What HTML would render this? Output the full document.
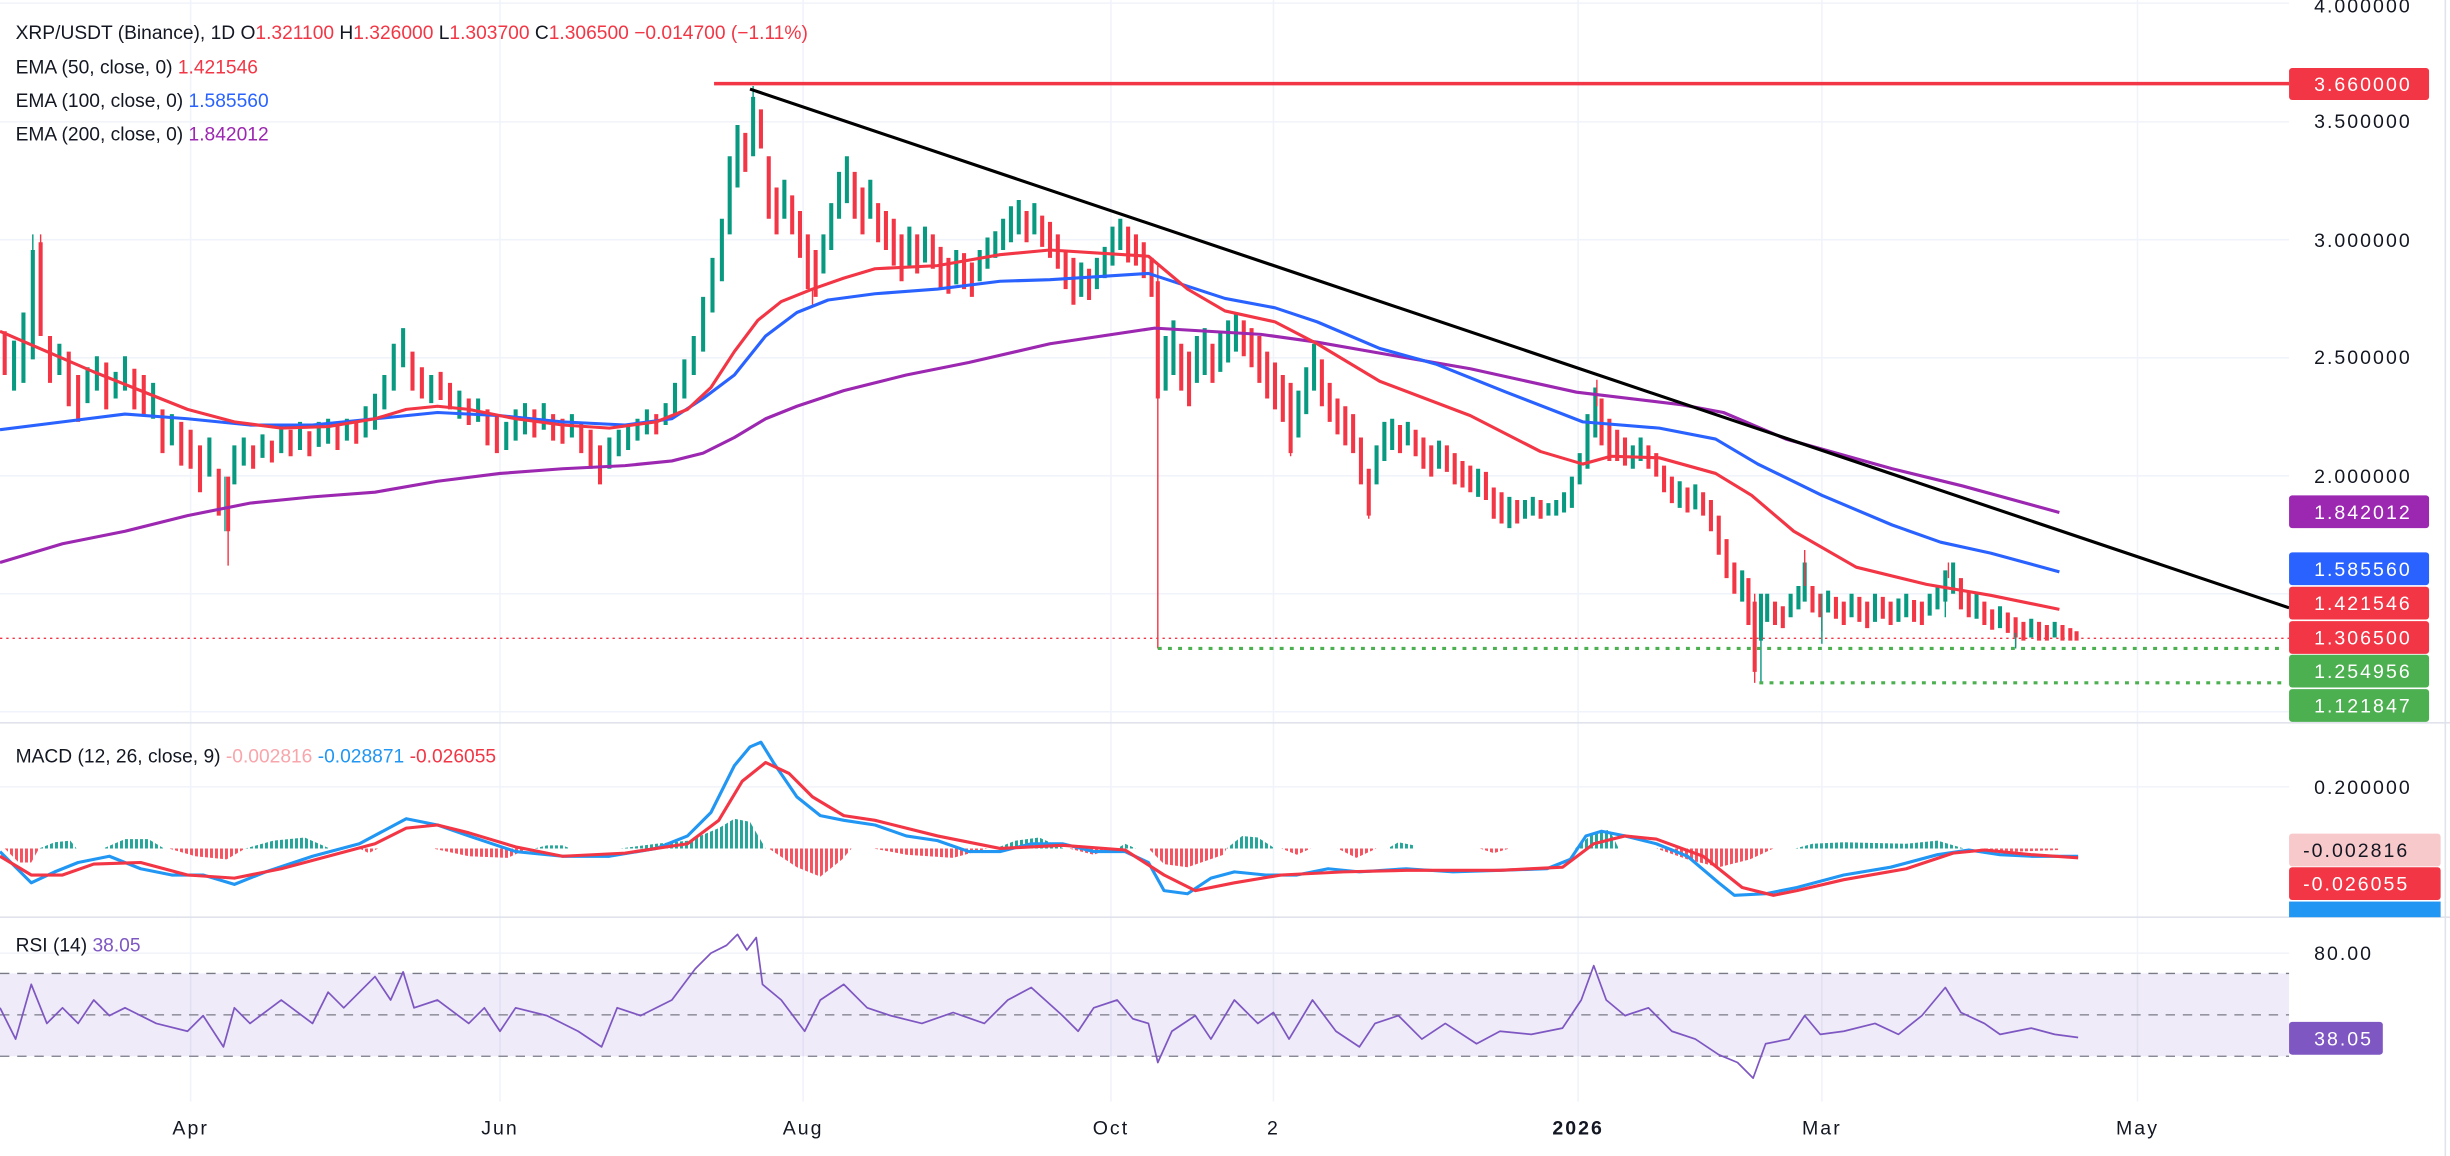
<!DOCTYPE html>
<html><head><meta charset="utf-8"><style>
html,body{margin:0;padding:0;background:#fff;}
svg{display:block;font-family:"Liberation Sans",sans-serif;}
.ax{font-size:12.5px;fill:#131722;letter-spacing:1.3px;}
.lg{font-size:12.3px;fill:#131722;}
</style></head><body>
<svg width="2450" height="1156" viewBox="0 0 1568 739.84" xmlns="http://www.w3.org/2000/svg">
<defs>
<pattern id="pg" width="3.2" height="10" patternUnits="userSpaceOnUse"><rect width="1.9" height="10" fill="#26a69a"/></pattern>
<pattern id="pr" width="3.2" height="10" patternUnits="userSpaceOnUse"><rect width="1.9" height="10" fill="#f7525f"/></pattern>
</defs>
<rect width="1568" height="740" fill="#fff"/>
<g stroke="#f0f3fa" stroke-width="1">
<path d="M122 0V705M320 0V705M514 0V705M711 0V705M815 0V705M1010 0V705M1166 0V705M1368 0V705"/>
<path d="M0 2H1465M0 78H1465M0 153.4H1465M0 229H1465M0 304.5H1465M0 380H1465M0 455.5H1465M0 503.6H1465M0 610H1465"/>
</g>
<rect x="0" y="623" width="1465" height="53" fill="#7e57c2" fill-opacity="0.12"/>
<g stroke="#787b86" stroke-width="0.8" stroke-dasharray="6,5">
<line x1="0" y1="623" x2="1465" y2="623"/><line x1="0" y1="649.5" x2="1465" y2="649.5"/><line x1="0" y1="676" x2="1465" y2="676"/>
</g>
<line x1="0" y1="462.6" x2="1568" y2="462.6" stroke="#e0e3eb" stroke-width="1"/>
<line x1="0" y1="587" x2="1568" y2="587" stroke="#e0e3eb" stroke-width="1"/>
<line x1="1565" y1="0" x2="1565" y2="740" stroke="#e0e3eb"/>

<!-- MACD histogram -->
<g>
<path fill="url(#pg)" d="M25 543L35 539L45 538L49 543ZM66 543L80 537L95 537L105 543ZM157 543L175 538L195 536L211 543ZM342 543L350 541L360 541L365 543ZM397 543L420 540L441 538L460 530L470 524L480 526L490 543ZM637 543L650 538L665 536L681 543ZM715 543L720 540L727 543ZM785 543L795 535L805 536L816 543ZM888 543L895 539L905 541L905 543ZM1008 543L1020 533L1030 531L1036 543ZM1149 543L1160 540L1180 539L1220 540L1240 538L1257 543Z"/>
<path fill="url(#pr)" d="M3 543L12 552L20 552L25 543ZM108 543L125 548L145 550L157 543ZM230 543L236 546L242 543ZM277 543L300 548L325 549L338 543ZM684 543L700 547L711 543ZM735 543L745 553L760 555L783 547L785 543ZM820 543L830 547L839 543ZM856 543L868 549L881 543ZM947 543L956 546L966 543ZM492 543L510 555L525 561L539 550L545 543ZM559 543L580 547L610 549L632 543ZM1060 543L1080 550L1100 555L1120 550L1135 543ZM1266 543L1290 545L1318 544L1318 543Z"/>
</g>

<!-- candles bodies -->
<path fill="none" stroke="#f23645" stroke-width="2.6" d="M3 212V240M26 155V215M32 215V245M44 225V260M50 240V270M68 232V262M86 236V262M92 240V265M104 262V290M116 270V298M122 275V300M128 285V315M140 300V330M146 305V340M162 285V300M174 282V296M186 275V292M198 276V292M216 272V288M228 270V284M264 225V250M270 235V255M282 238V256M288 245V262M300 255V272M312 262V285M318 265V290M342 262V280M354 265V282M360 268V284M372 270V290M378 275V300M384 285V310M420 265V278M477 85V110M487 70V95M492 100V140M497 120V150M507 125V150M512 135V165M517 150V185M522 160V190M547 110V140M552 120V150M562 130V155M567 135V160M572 140V170M577 150V180M587 150V175M597 150V172M602 158V185M607 165V188M617 162V185M622 168V190M657 135V155M667 138V158M672 142V165M677 150V172M682 160V185M687 165V195M697 172V192M722 145V168M727 150V170M732 155V178M737 165V190M741 180V255M756 220V250M761 225V260M776 220V245M796 205V228M801 210V235M806 215V245M811 225V255M816 232V262M821 240V270M826 245V290M846 230V260M851 245V270M856 255V278M861 260V285M866 265V290M871 280V310M876 300V330M896 272V290M906 275V292M911 280V300M916 285V305M926 285V302M931 290V310M936 295V312M941 298V315M951 302V320M956 312V332M961 315V335M971 320V335M986 320V332M1025 255V285M1030 268V295M1035 275V295M1040 280V298M1055 285V300M1060 290V305M1065 298V315M1070 305V322M1080 312V328M1090 315V330M1095 320V340M1100 330V355M1105 345V370M1110 360V380M1119 370V400M1123 385V430M1136 385V400M1141 388V402M1160 375V392M1165 380V395M1175 382V396M1180 385V400M1190 382V398M1195 385V402M1205 382V396M1210 385V400M1225 384V398M1230 385V400M1255 370V390M1260 378V395M1270 385V400M1275 390V403M1285 392V405M1290 395V408M1295 398V410M1305 398V410M1310 400V410M1320 400V410M1325 402V410M1329 404V410"/>
<path fill="none" stroke="#089981" stroke-width="2.6" d="M9 218V250M15 200V245M21 160V230M38 220V240M56 235V258M62 228V250M74 238V255M80 228V250M98 245V268M110 265V285M134 280V305M150 285V310M156 280V298M168 278V293M180 272V290M192 270V288M204 270V286M210 268V284M222 268V282M234 260V280M240 252V275M246 240V262M252 220V250M258 210V235M276 240V258M294 250V268M306 255V270M324 270V288M330 262V282M336 258V278M348 258V275M366 265V280M390 280V300M396 275V292M402 272V288M408 268V282M414 262V278M426 258V272M432 245V265M438 230V255M444 215V240M450 190V225M456 165V200M462 140V180M467 100V150M472 80V120M482 62V100M502 115V140M527 150V175M532 130V160M537 110V140M542 100V130M557 115V140M582 145V170M592 145V168M612 160V182M627 160V180M632 152V172M637 148V165M642 140V160M647 132V155M652 128V150M662 130V150M692 168V190M702 165V185M707 158V178M712 145V170M717 140V160M746 215V250M751 205V240M766 215V245M771 210V240M781 212V238M786 205V232M791 200V225M831 250V280M836 235V265M841 220V250M881 285V310M886 270V295M891 268V288M901 270V285M921 282V300M946 300V318M966 318V338M976 320V332M981 318V330M991 322V330M996 320V330M1001 315V328M1006 305V325M1011 290V310M1016 265V300M1021 248V280M1045 285V300M1050 280V295M1075 308V325M1085 310V326M1115 365V385M1127 380V410M1131 380V398M1146 380V395M1151 375V390M1155 360V385M1170 378V392M1185 380V395M1200 380V398M1215 383V398M1220 380V395M1235 380V394M1240 375V390M1245 365V385M1250 360V380M1265 380V396M1280 388V402M1300 396V408M1315 398V408"/>
<path fill="none" stroke="#f23645" stroke-width="0.9" d="M741 170V415M1123 380V437M146 330V362M1155 352V375M1247 360V370M1022 243V260M26 150V160M1290 400V414M1166 392V404M520 185V195M876 325V332M826 285V292"/>
<path fill="none" stroke="#089981" stroke-width="0.9" d="M482 55V65M21 150V165M1127 405V437M1166 380V412M1245 372V395M1290 405V415M144 305V340"/>

<!-- EMAs -->
<g fill="none" stroke-linejoin="round" stroke-width="2">
<path stroke="#9c27b0" d="M0 360L40 348L80 340L120 330L160 322L200 318L240 315L280 308L320 303L360 300L400 298L430 295L450 290L470 280L490 268L510 260L540 250L580 240L620 232L672 220L739 210L807 214L843 219L883 226L941 236L1009 251L1076 259L1103 264L1143 281L1211 300L1256 311L1318 328"/>
<path stroke="#2962ff" d="M0 275L40 270L80 265L120 268L160 272L200 272L240 268L280 264L320 266L360 270L400 272L430 268L450 255L470 240L490 215L510 200L530 192L560 188L600 185L640 180L672 179L735 175L784 191L816 197L843 206L883 223L919 233L964 251L1013 270L1062 274L1098 281L1125 297L1166 317L1211 336L1242 347L1274 354L1318 366"/>
<path stroke="#f23645" d="M0 212L30 225L60 238L90 250L120 262L150 270L180 274L210 273L240 268L260 262L280 260L300 262L330 268L360 272L390 274L420 270L440 262L455 248L470 225L485 205L500 193L520 185L540 178L560 172L600 170L640 163L672 160L735 164L760 185L784 199L816 206L843 220L883 244L941 266L986 289L1013 297L1031 292L1062 293L1098 303L1121 317L1148 340L1188 363L1233 374L1274 381L1318 390"/>
<path stroke="#2196f3" d="M0 545L10 555L20 565L35 558L50 552L70 548L90 556L110 560L130 560L150 566L170 558L200 548L230 540L260 524L280 528L300 535L330 545L360 548L390 548L420 543L440 535L455 520L470 490L480 478L487 475L495 488L510 510L525 522L540 525L560 528L580 535L600 538L620 545L640 545L660 540L680 540L700 545L720 545L735 552L745 570L760 572L775 562L790 558L810 560L830 560L850 556L870 558L900 556L930 558L960 557L990 556L1005 550L1015 535L1025 532L1040 535L1060 540L1080 548L1100 565L1110 573L1130 572L1150 568L1180 560L1210 555L1240 547L1260 544L1280 547L1300 548L1330 548"/>
<path stroke="#f23645" d="M0 548L20 560L40 560L60 553L90 552L120 560L150 562L180 556L210 548L240 540L260 530L280 528L300 533L330 542L360 548L400 546L440 540L460 525L475 500L490 488L505 495L520 510L540 522L560 525L600 535L640 543L680 541L720 544L745 560L765 570L790 565L820 560L860 558L900 557L960 557L1000 555L1020 540L1040 535L1060 537L1090 548L1115 568L1135 573L1150 570L1180 563L1220 556L1250 546L1270 544L1300 547L1330 549"/>
<path stroke="#7e57c2" stroke-width="1.1" d="M0 645L10 665L20 630L30 655L40 645L50 655L60 640L70 650L80 645L100 655L120 660L130 650L143 670L150 645L160 655L180 640L200 655L210 635L220 645L240 625L250 640L258 622L265 645L280 640L300 655L310 645L320 660L330 645L350 650L370 660L385 670L395 645L410 650L430 640L445 620L455 610L465 605L472 598L478 608L484 600L488 630L500 640L515 660L525 640L540 630L555 645L570 650L590 655L610 648L630 655L645 640L660 632L680 650L690 660L700 645L715 640L725 652L735 655L741 680L750 660L765 650L775 665L790 640L805 655L815 648L825 665L840 640L855 660L870 670L880 655L895 650L910 665L925 655L945 668L960 660L980 662L1000 658L1012 640L1020 618L1028 640L1040 650L1055 645L1070 660L1085 665L1100 675L1112 680L1122 690L1130 668L1145 665L1155 650L1165 662L1180 660L1200 655L1215 662L1230 650L1245 632L1255 648L1270 655L1280 662L1300 658L1315 662L1330 664"/>
</g>

<line x1="457" y1="53.5" x2="1465" y2="53.5" stroke="#f23645" stroke-width="2.2"/>
<line x1="480" y1="57" x2="1465" y2="389" stroke="#000" stroke-width="2"/>
<line x1="0" y1="408.5" x2="1465" y2="408.5" stroke="#f23645" stroke-width="0.9" stroke-dasharray="1.5,2.5"/>
<line x1="741" y1="415" x2="1460" y2="415" stroke="#4caf50" stroke-width="2" stroke-dasharray="2.5,4"/>
<line x1="1126" y1="437" x2="1460" y2="437" stroke="#4caf50" stroke-width="2" stroke-dasharray="2.5,4"/>

<text class="lg" x="10" y="25">XRP/USDT (Binance), 1D  O<tspan fill="#f23645">1.321100</tspan>  H<tspan fill="#f23645">1.326000</tspan>  L<tspan fill="#f23645">1.303700</tspan>  C<tspan fill="#f23645">1.306500</tspan>  <tspan fill="#f23645">−0.014700 (−1.11%)</tspan></text>
<text class="lg" x="10" y="47">EMA (50, close, 0)  <tspan fill="#f23645">1.421546</tspan></text>
<text class="lg" x="10" y="68.5">EMA (100, close, 0)  <tspan fill="#2962ff">1.585560</tspan></text>
<text class="lg" x="10" y="90">EMA (200, close, 0)  <tspan fill="#9c27b0">1.842012</tspan></text>
<text class="lg" x="10" y="488">MACD (12, 26, close, 9)  <tspan fill="#f8a5ab">-0.002816</tspan>  <tspan fill="#2196f3">-0.028871</tspan>  <tspan fill="#f23645">-0.026055</tspan></text>
<text class="lg" x="10" y="609">RSI (14)  <tspan fill="#7e57c2">38.05</tspan></text>

<g class="ax">
<text x="1481" y="8">4.000000</text>
<text x="1481" y="82">3.500000</text>
<text x="1481" y="158">3.000000</text>
<text x="1481" y="233">2.500000</text>
<text x="1481" y="309">2.000000</text>
<text x="1481" y="508">0.200000</text>
<text x="1481" y="614.5">80.00</text>
</g>
<g font-size="12.5" letter-spacing="1.3">
<rect x="1465" y="43.5" width="89.6" height="20.5" rx="2" fill="#f23645"/><text x="1481" y="58.3" fill="#fff">3.660000</text>
<rect x="1465" y="317" width="89.6" height="21" rx="2" fill="#9c27b0"/><text x="1481" y="332" fill="#fff">1.842012</text>
<rect x="1465" y="353.5" width="89.6" height="21" rx="2" fill="#2962ff"/><text x="1481" y="368.5" fill="#fff">1.585560</text>
<rect x="1465" y="375.5" width="89.6" height="21" rx="2" fill="#f23645"/><text x="1481" y="390.5" fill="#fff">1.421546</text>
<rect x="1465" y="397.5" width="89.6" height="21" rx="2" fill="#f23645"/><text x="1481" y="412.5" fill="#fff">1.306500</text>
<rect x="1465" y="419" width="89.6" height="21" rx="2" fill="#4caf50"/><text x="1481" y="434" fill="#fff">1.254956</text>
<rect x="1465" y="441" width="89.6" height="21" rx="2" fill="#4caf50"/><text x="1481" y="456" fill="#fff">1.121847</text>
<rect x="1465" y="577" width="97" height="10" fill="#2196f3"/>
<rect x="1465" y="533.5" width="97" height="21" rx="2" fill="#f8c9cb"/><text x="1474" y="548.5" fill="#131722">-0.002816</text>
<rect x="1465" y="555" width="97" height="21" rx="2" fill="#f23645"/><text x="1474" y="570" fill="#fff">-0.026055</text>
<rect x="1465" y="654" width="60" height="21" rx="2" fill="#7e57c2"/><text x="1481" y="669" fill="#fff">38.05</text>
</g>
<g class="ax" text-anchor="middle" letter-spacing="0.6">
<text x="122" y="726">Apr</text><text x="320" y="726">Jun</text><text x="514" y="726">Aug</text><text x="711" y="726">Oct</text>
<text x="815" y="726">2</text><text x="1010" y="726" font-weight="bold">2026</text><text x="1166" y="726">Mar</text><text x="1368" y="726">May</text>
</g>
</svg>
</body></html>
